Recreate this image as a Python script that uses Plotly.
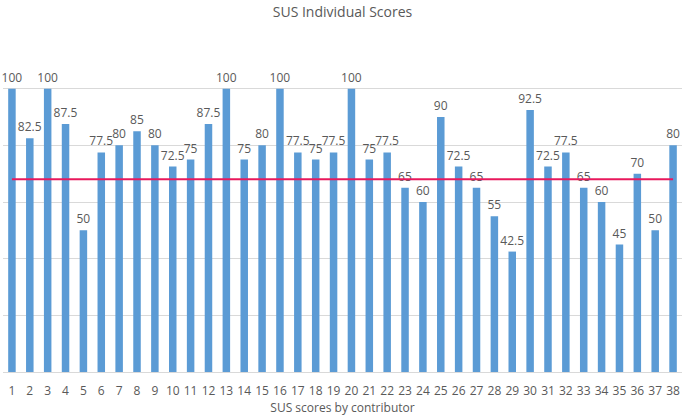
import plotly.graph_objects as go

contributors = [str(i) for i in range(1, 39)]
scores = [100, 82.5, 100, 87.5, 50, 77.5, 80, 85, 80, 72.5, 75, 87.5, 100, 75, 80,
          100, 77.5, 75, 77.5, 100, 75, 77.5, 65, 60, 90, 72.5, 65, 55, 42.5, 92.5,
          72.5, 77.5, 65, 60, 45, 70, 50, 80]
average_score = 68

font_family = "Open Sans, Liberation Sans, sans-serif"
grey = "#595959"

fig = go.Figure()
fig.add_trace(go.Bar(
    x=contributors, y=scores,
    marker=dict(color="#5B9BD5", line=dict(width=0)),
    text=[f"{v:g}" for v in scores],
    textposition="outside",
    constraintext="none",
    cliponaxis=False,
    textfont=dict(size=12, color=grey, family=font_family),
    showlegend=False,
))
fig.add_trace(go.Scatter(
    x=[contributors[0], contributors[-1]], y=[average_score, average_score],
    mode="lines", line=dict(color="#E8185C", width=2), showlegend=False,
    hoverinfo="skip",
))

fig.update_layout(
    width=685, height=417,
    margin=dict(l=3, r=3, t=32, b=45),
    paper_bgcolor="white", plot_bgcolor="white",
    bargap=0.58,
    title=dict(text="SUS Individual Scores", x=0.5, xanchor="center", y=0.97, yanchor="middle",
               font=dict(size=14, color=grey, family=font_family)),
    font=dict(family=font_family, color=grey),
)
fig.update_xaxes(
    type="category", showgrid=False, showline=True, linecolor="#D9D9D9", linewidth=1,
    ticks="", tickfont=dict(size=12, color=grey), ticklabelstandoff=8,
    title=dict(text="SUS scores by contributor", font=dict(size=12, color=grey), standoff=2),
)
fig.update_yaxes(
    range=[0, 120], dtick=20, showgrid=True, gridcolor="#D9D9D9", gridwidth=1,
    showticklabels=False, zeroline=False, showline=False,
)

fig.write_html("out.html")
